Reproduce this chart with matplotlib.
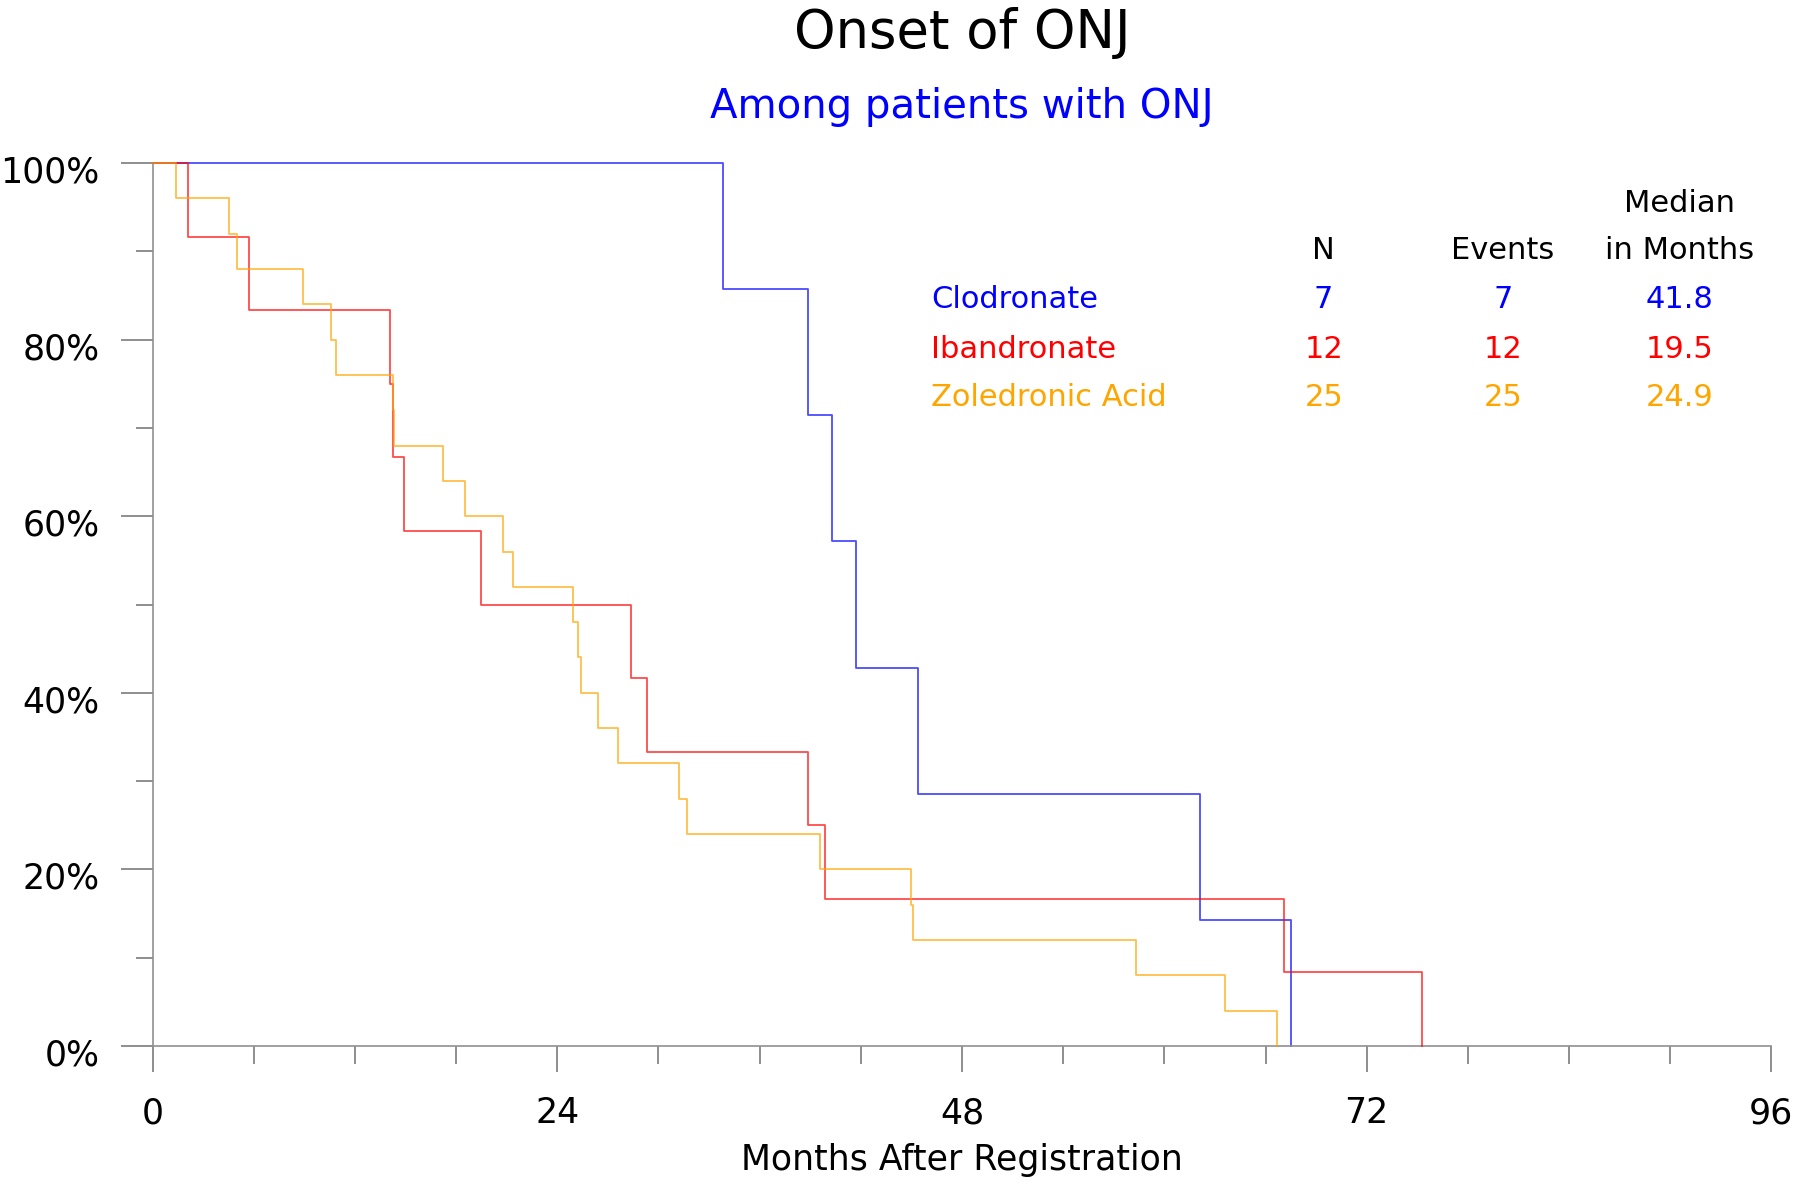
import numpy as np
import matplotlib
matplotlib.use("Agg")
import matplotlib.pyplot as plt
import matplotlib.transforms as mtransforms
from matplotlib.ticker import MultipleLocator, FuncFormatter

# event times (months after registration), no censoring
groups = ["Clodronate", "Ibandronate", "Zoledronic Acid"]
colors = ["#0000FF", "#FF0000", "#FFA500"]
clod_times = [33.8, 38.85, 40.3, 41.7, 45.4, 62.1, 67.5]
iban_times = [2.1, 5.7, 14.05, 14.25, 14.9, 19.5, 28.35, 29.3, 38.85, 39.85, 67.1, 75.3]
zole_times = [1.4, 4.5, 5.0, 8.9, 10.6, 10.85, 14.25, 14.3, 17.2, 18.5, 20.8, 21.4,
              24.9, 25.2, 25.4, 26.4, 27.6, 31.2, 31.7, 39.6, 45.0, 45.1, 58.3, 63.6, 66.7]
n_pts = [7, 12, 25]
n_events = [7, 12, 25]
medians = ["41.8", "19.5", "24.9"]

plt.rcParams['font.family'] = ['DejaVu Sans']

fig = plt.figure(figsize=(18, 11.86), dpi=100)
ax = fig.add_axes([0.0848, 0.118, 0.8993, 0.7446])

# Kaplan-Meier step curves
for times, col, z in zip([clod_times, iban_times, zole_times], colors, [2, 3, 4]):
    n = len(times)
    t = np.concatenate([[0], times])
    surv = 100 * (1 - np.arange(0, n + 1) / n)
    ax.step(t, surv, where="post", color=col, lw=1.3, alpha=0.7, zorder=z, clip_on=False)

ax.set_xlim(0, 96)
ax.set_ylim(0, 100)
ax.xaxis.set_major_locator(MultipleLocator(24))
ax.xaxis.set_minor_locator(MultipleLocator(6))
ax.yaxis.set_major_locator(MultipleLocator(20))
ax.yaxis.set_minor_locator(MultipleLocator(10))
ax.yaxis.set_major_formatter(FuncFormatter(lambda v, p: f"{v:.0f}%"))

for s in ["top", "right"]:
    ax.spines[s].set_visible(False)
for s in ["left", "bottom"]:
    ax.spines[s].set_color("#909090")
    ax.spines[s].set_linewidth(1.2)

ax.tick_params(axis="x", which="major", length=19, width=1.1, color="#707070", pad=17, labelsize=25)
ax.tick_params(axis="x", which="minor", length=13, width=1.1, color="#707070")
ax.tick_params(axis="y", which="major", length=23, width=1.1, color="#707070", pad=15, labelsize=25)
ax.tick_params(axis="y", which="minor", length=12, width=1.1, color="#707070")

# y tick labels sit slightly below their ticks in the original
shift = mtransforms.ScaledTranslation(0, -0.06, fig.dpi_scale_trans)
for lab in ax.get_yticklabels():
    lab.set_transform(lab.get_transform() + shift)

ax.set_xlabel("Months After Registration", fontsize=25)
ax.xaxis.set_label_coords(0.5, -0.129)
ax.xaxis.label.set_va("center")

# titles
fig.text(0.5345, 0.972, "Onset of ONJ", fontsize=38, ha="center", va="center")
fig.text(0.5345, 0.910, "Among patients with ONJ", fontsize=29, color="#0000FF",
         ha="center", va="center")

# summary table
fs = 22
col_x = [0.7234, 0.8341, 0.9434]
ax.text(col_x[2], 0.954, "Median", fontsize=fs, ha="center", va="center", transform=ax.transAxes)
for x, h in zip(col_x, ["N", "Events", "in Months"]):
    ax.text(x, 0.901, h, fontsize=fs, ha="center", va="center", transform=ax.transAxes)
row_y = [0.845, 0.789, 0.734]
for g, c, n, e, m, y in zip(groups, colors, n_pts, n_events, medians, row_y):
    ax.text(0.4808, y, g, fontsize=fs, color=c, ha="left", va="center", transform=ax.transAxes)
    for x, v in zip(col_x, [str(n), str(e), m]):
        ax.text(x, y, v, fontsize=fs, color=c, ha="center", va="center", transform=ax.transAxes)

fig.savefig("out.png", dpi=100)
